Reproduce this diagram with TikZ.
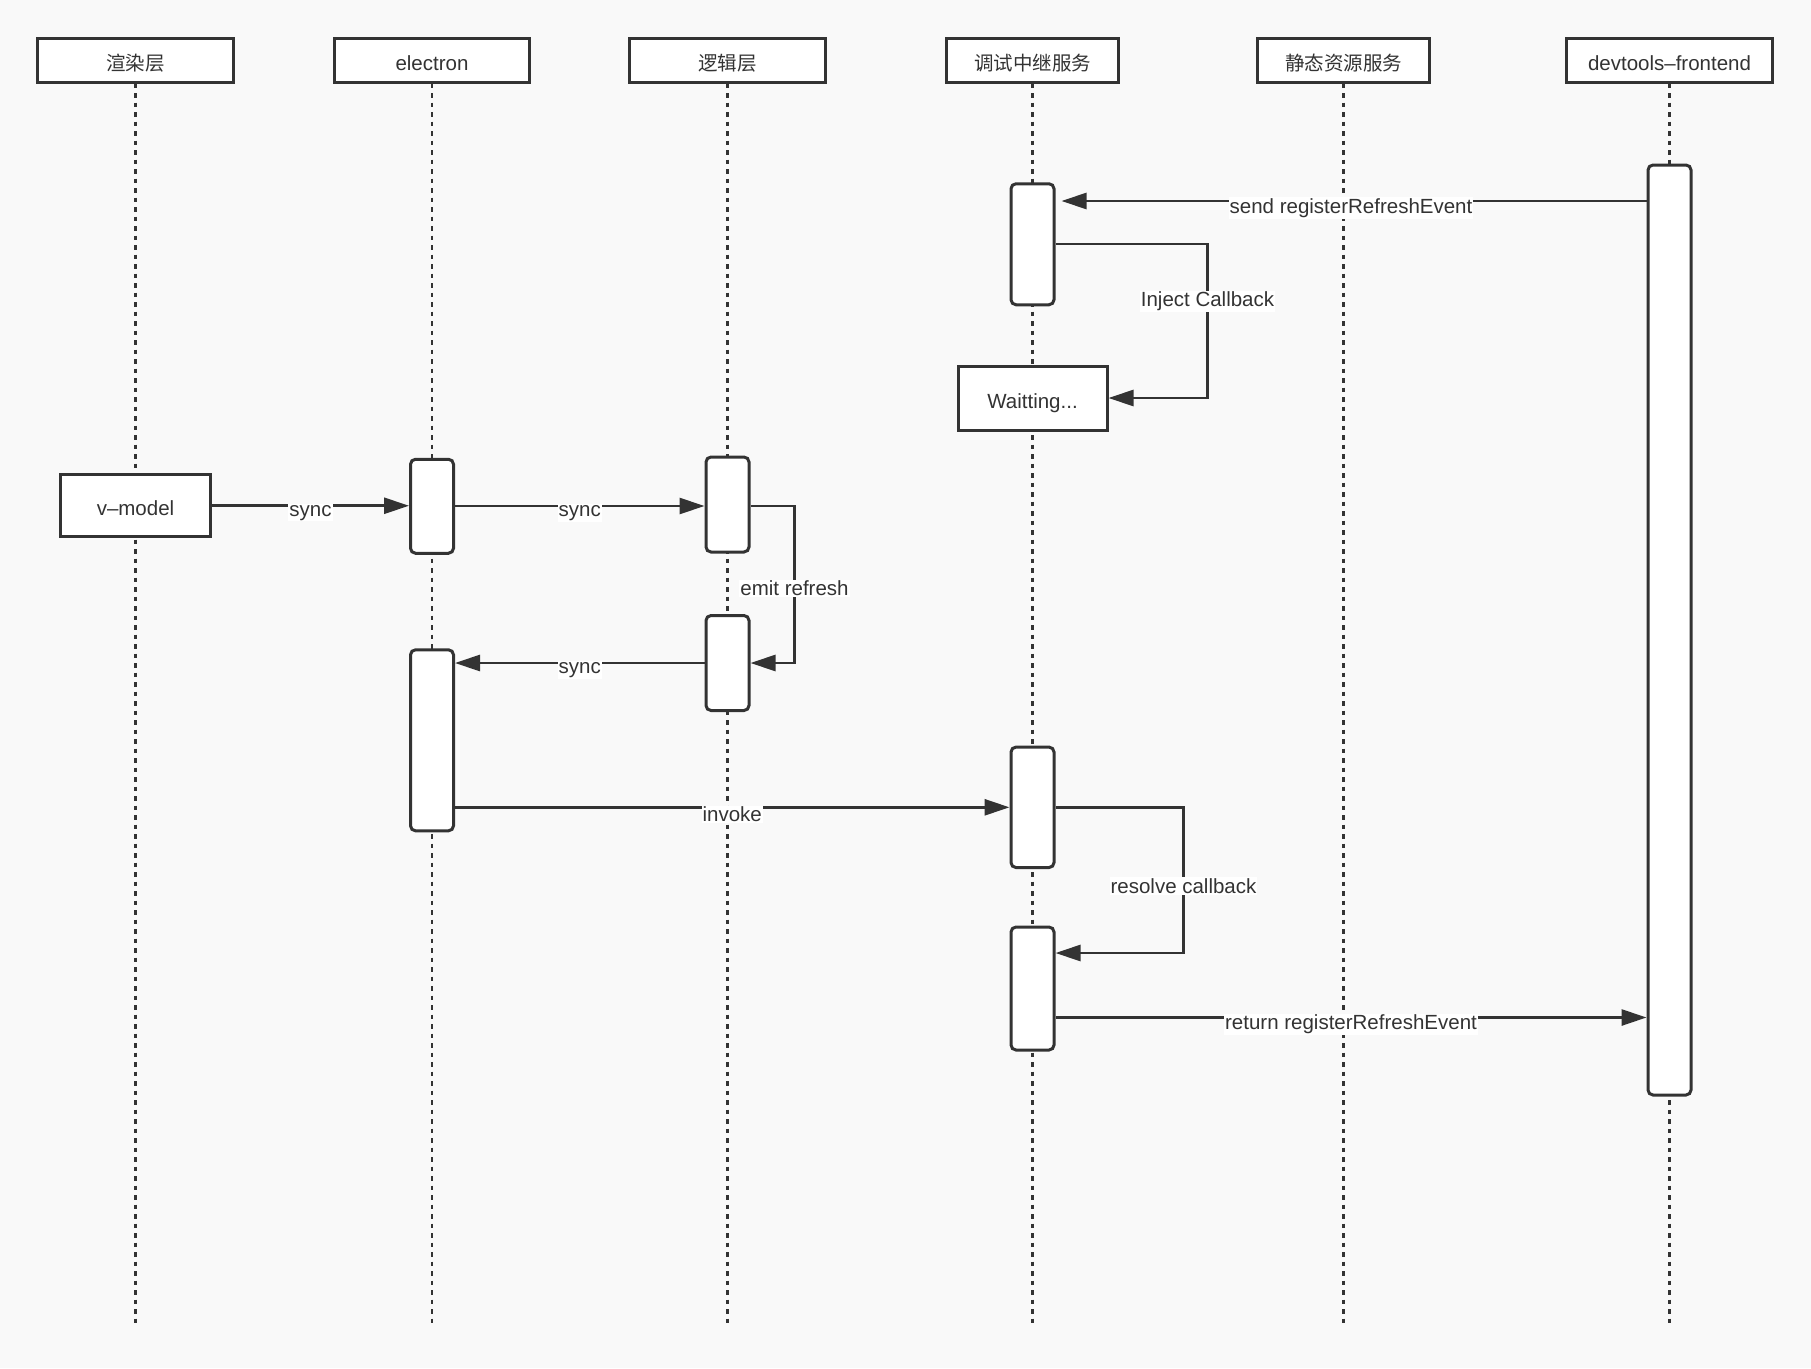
\documentclass[tikz,border=0pt]{standalone}
\usepackage{fontspec}
\setmainfont{Liberation Sans}
\newfontfamily\cjk{Noto Sans CJK SC}
\usetikzlibrary{calc,arrows.meta}

\definecolor{linecol}{HTML}{333333}
\definecolor{bgcol}{HTML}{F9F9F9}
\newcommand{\hanzi}[1]{{\cjk\fontsize{19.5}{23}\selectfont #1}}

\begin{document}
\begin{tikzpicture}[
		x=1pt, y=-1pt,
		line cap=butt,
		font=\fontsize{20.5}{24}\selectfont,
		head/.style={draw=linecol, fill=white, line width=3pt, inner sep=0pt, minimum height=44pt, text height=20pt, text depth=0pt, text=linecol},
		act/.style={draw=linecol, fill=white, line width=3pt, rounded corners=5pt, inner sep=0pt, minimum width=43pt},
		lifeline/.style={draw=linecol, line width=2.6pt, dash pattern=on 4.7pt off 4.8pt},
		msg/.style={draw=linecol, line width=2.8pt, -{Triangle[length=25pt,width=16pt]}},
		lab/.style={fill=white, inner sep=1pt, text=linecol, yshift=-7pt}
	]
	
	% Parameters
	\def\xRender{135.5}
	\def\xElec{432}
	\def\xLogic{727.5}
	\def\xRelay{1032.5}
	\def\xStatic{1343.5}
	\def\xDev{1669.5}
	\def\yHead{60}
	\def\yEnd{1325}
	
	% Canvas
	\useasboundingbox (0,0) rectangle (1811,1368);
	\fill[bgcol] (0,0) rectangle (1811,1368);
	
	% Headers
	\node[head, minimum width=196pt] (hRender) at (\xRender,\yHead) {\hanzi{渲染层}};
	\node[head, minimum width=195pt] (hElectron) at (\xElec,\yHead) {electron};
	\node[head, minimum width=196pt] (hLogic) at (\xLogic,\yHead) {\hanzi{逻辑层}};
	\node[head, minimum width=172pt] (hRelay) at (\xRelay,\yHead) {\hanzi{调试中继服务}};
	\node[head, minimum width=172pt] (hStatic) at (\xStatic,\yHead) {\hanzi{静态资源服务}};
	\node[head, minimum width=206pt] (hDevtools) at (\xDev,\yHead) {devtools–frontend};
	
	% Lifelines
	\foreach \n in {Render,Electron,Logic,Relay,Static,Devtools} {
		\draw[lifeline] (h\n.south) -- (h\n.south |- 0,\yEnd);
	}
	
	% Boxes
	\node[act, minimum height=121pt] (relayA) at (\xRelay,244.25) {};
	\node[head, minimum width=149pt, minimum height=64pt] (wait) at (\xRelay,398) {Waitting...};
	\node[act, minimum height=930pt] (devA) at (\xDev,630) {};
	\node[head, minimum width=150pt, minimum height=62pt] (vmodel) at (\xRender,505.75) {v–model};
	\node[act, minimum height=94pt] (elecA) at (\xElec,506.25) {};
	\node[act, minimum height=95pt] (logicA) at (\xLogic,504.5) {};
	\node[act, minimum height=95pt] (logicB) at (\xLogic,663) {};
	\node[act, minimum height=181pt] (elecB) at (\xElec,740.3) {};
	\node[act, minimum height=120.5pt] (relayB) at (\xRelay,807.3) {};
	\node[act, minimum height=123pt] (relayC) at (\xRelay,988.5) {};
	
	% Messages
	\draw[msg, shorten >=6pt] (devA.west |- 0,201) -- node[lab]{send registerRefreshEvent} (relayA.east |- 0,201);
	\draw[msg] (relayA.east |- 0,244) -| node[lab, pos=0.664]{Inject Callback} ($(wait.east)+(99,0)$) -- (wait.east);
	\draw[msg] (vmodel.east) -- node[lab]{sync} (elecA.west |- vmodel.east);
	\draw[msg] (elecA.east |- 0,506) -- node[lab]{sync} (logicA.west |- 0,506);
	\draw[msg] (logicA.east |- 0,506) -| node[lab, pos=0.74]{emit refresh} ($(logicB.east)+(44,0)$) -- (logicB.east);
	\draw[msg] (logicB.west) -- node[lab]{sync} (elecB.east |- logicB.west);
	\draw[msg] (elecB.east |- relayB.west) -- node[lab]{invoke} (relayB.west);
	\draw[msg] (relayB.east) -| node[lab, pos=0.746]{resolve callback} ($(relayC.east |- 0,953)+(128,0)$) -- (relayC.east |- 0,953);
	\draw[msg] (relayC.east |- 0,1017.5) -- node[lab]{return registerRefreshEvent} (devA.west |- 0,1017.5);
	
\end{tikzpicture}
\end{document}
